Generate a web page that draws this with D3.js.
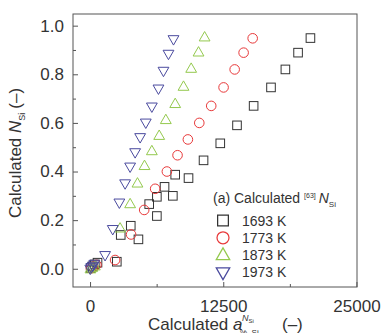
<!DOCTYPE html>
<html>
<head>
<meta charset="utf-8">
<script src="https://cdn.jsdelivr.net/npm/d3@7"></script>
<style>
  body { margin: 0; background: #fff; }
  svg { font-family: "Liberation Sans", Arial, sans-serif; }
</style>
</head>
<body>
<div id="chart"></div>
<script>
// values: [activity, N_Si]
const series1693 = [
  [60, 0.003], [250, 0.01], [450, 0.018], [700, 0.025], [2510, 0.029], [2880, 0.139], [3820, 0.177], [4540, 0.121],
  [5550, 0.266], [6270, 0.217], [6270, 0.296], [6990, 0.337], [7770, 0.30], [7990, 0.387],
  [9240, 0.373], [10650, 0.446], [12220, 0.516], [13790, 0.59], [15350, 0.67],
  [16980, 0.746], [18330, 0.82], [19520, 0.889], [20680, 0.949]
];
const series1773 = [
  [80, 0.002], [300, 0.008], [600, 0.016], [2350, 0.036], [3850, 0.141], [5080, 0.242], [6110, 0.329],
  [7210, 0.40], [8210, 0.467], [9180, 0.532], [10250, 0.60], [11370, 0.67],
  [12530, 0.746], [13570, 0.82], [14410, 0.889], [15260, 0.948]
];
const series1873 = [
  [40, -0.002], [200, 0.004], [450, 0.01], [2820, 0.166], [3760, 0.266], [4450, 0.351], [5110, 0.423],
  [5800, 0.484], [6490, 0.547], [7110, 0.612], [7990, 0.678], [8770, 0.749],
  [9490, 0.823], [10180, 0.89], [10750, 0.952]
];
const series1973 = [
  [20, 0.0], [120, 0.006], [250, 0.012], [400, 0.02], [1410, 0.056], [2130, 0.163], [2750, 0.272], [3290, 0.351],
  [3760, 0.42], [4230, 0.479], [4700, 0.541], [5230, 0.601], [5800, 0.667],
  [6420, 0.741], [6890, 0.814], [7360, 0.884], [7830, 0.944]
];
const seriesNames = ["1693 K", "1773 K", "1873 K", "1973 K"];
const xTicks = [0, 12500, 25000];
const xMinor = [6250, 18750];
const yTicks = [0, 0.2, 0.4, 0.6, 0.8, 1.0];
const yMinor = [0.1, 0.3, 0.5, 0.7, 0.9];

const width = 383, height = 333;
const margin = { top: 14, right: 26, bottom: 46, left: 73 };
const colors = ["#333333", "#e8393a", "#94c94e", "#4a4a9e"];
const shapes = ["square", "circle", "up", "down"];

const svg = d3.select("#chart").append("svg")
  .attr("width", width).attr("height", height);

const x = d3.scaleLinear().domain([-1600, 25050]).range([margin.left, width - margin.right]);
const y = d3.scaleLinear().domain([-0.075, 1.048]).range([height - margin.bottom, margin.top]);

function marker(sel, shape, color) {
  if (shape === "square") {
    sel.append("rect").attr("x", -4.3).attr("y", -4.3).attr("width", 8.6).attr("height", 8.6);
  } else if (shape === "circle") {
    sel.append("circle").attr("r", 4.8);
  } else if (shape === "up") {
    sel.append("path").attr("d", "M0,-5.8L5.4,3.6L-5.4,3.6Z");
  } else {
    sel.append("path").attr("d", "M0,5.8L5.4,-3.6L-5.4,-3.6Z");
  }
  sel.selectAll("*").attr("fill", "none").attr("stroke", color).attr("stroke-width", 1);
}

const allSeries = [series1693, series1773, series1873, series1973];
allSeries.forEach((data, i) => {
  svg.append("g").selectAll("g")
    .data(data)
    .join("g")
    .attr("transform", d => `translate(${x(d[0])},${y(d[1])})`)
    .each(function () { marker(d3.select(this), shapes[i], colors[i]); });
});

// frame
const x0 = margin.left, x1 = width - margin.right, y0 = margin.top, y1 = height - margin.bottom;
svg.append("rect")
  .attr("x", x0).attr("y", y0).attr("width", x1 - x0).attr("height", y1 - y0)
  .attr("fill", "none").attr("stroke", "#555").attr("stroke-width", 1);

// axes with inward ticks
svg.append("g").attr("transform", `translate(0,${y1})`)
  .call(d3.axisBottom(x).tickValues(xTicks).tickSize(-5).tickPadding(13).tickFormat(d3.format("d")));
svg.append("g").attr("transform", `translate(0,${y1})`)
  .call(d3.axisBottom(x).tickValues(xMinor).tickSize(-3).tickFormat(""));
svg.append("g").attr("transform", `translate(${x0},0)`)
  .call(d3.axisLeft(y).tickValues(yTicks).tickSize(-5).tickPadding(9).tickFormat(d3.format(".1f")));
svg.append("g").attr("transform", `translate(${x0},0)`)
  .call(d3.axisLeft(y).tickValues(yMinor).tickSize(-3).tickFormat(""));
svg.selectAll(".domain").remove();
svg.selectAll(".tick line").attr("stroke", "#555");
svg.selectAll(".tick text").attr("fill", "#333").style("font-size", "17px")
  .style("font-family", "'Liberation Sans', Arial, sans-serif");

// x title: a with stacked super/subscript
const xt = svg.append("text").attr("x", 148).attr("y", 330).attr("fill", "#333").style("font-size", "17px");
xt.append("tspan").text("Calculated ");
xt.append("tspan").text("a").style("font-style", "italic");
svg.append("text").attr("x", 242).attr("y", 321).attr("fill", "#333")
  .style("font-size", "9px").style("font-style", "italic").text("N")
  .append("tspan").attr("dy", 2).style("font-size", "6px").style("font-style", "normal").text("Si");
svg.append("text").attr("x", 240).attr("y", 335).attr("fill", "#333")
  .style("font-size", "8px").text("%, Si");
svg.append("text").attr("x", 282).attr("y", 330).attr("fill", "#333")
  .style("font-size", "17px").text("(–)");

const yt = svg.append("text").attr("transform", "translate(21,218) rotate(-90)")
  .attr("fill", "#333").style("font-size", "17px");
yt.append("tspan").text("Calculated ");
yt.append("tspan").text("N").style("font-style", "italic");
yt.append("tspan").attr("dy", 4).style("font-size", "9px").text("Si");
yt.append("tspan").attr("dx", 4).attr("dy", -4).text("(–)");

// legend
const lg = svg.append("g");
const lt = lg.append("text").attr("x", 213).attr("y", 203).attr("fill", "#333").style("font-size", "14px");
lt.append("tspan").text("(a) Calculated ");
lt.append("tspan").attr("dy", -5).style("font-size", "7px").text("[63]");
lt.append("tspan").attr("dx", 3).attr("dy", 5).style("font-style", "italic").text("N");
lt.append("tspan").attr("dy", 4).style("font-size", "8px").text("Si");

seriesNames.forEach((name, i) => {
  const yy = 220.5 + i * 17.3;
  const g = lg.append("g").attr("transform", `translate(223,${yy})`);
  marker(g, shapes[i], colors[i]);
  g.selectAll("*").attr("transform", "scale(1.25)");
  lg.append("text").attr("x", 242).attr("y", yy + 5).attr("fill", "#333")
    .style("font-size", "14px").text(name);
});
</script>
</body>
</html>
